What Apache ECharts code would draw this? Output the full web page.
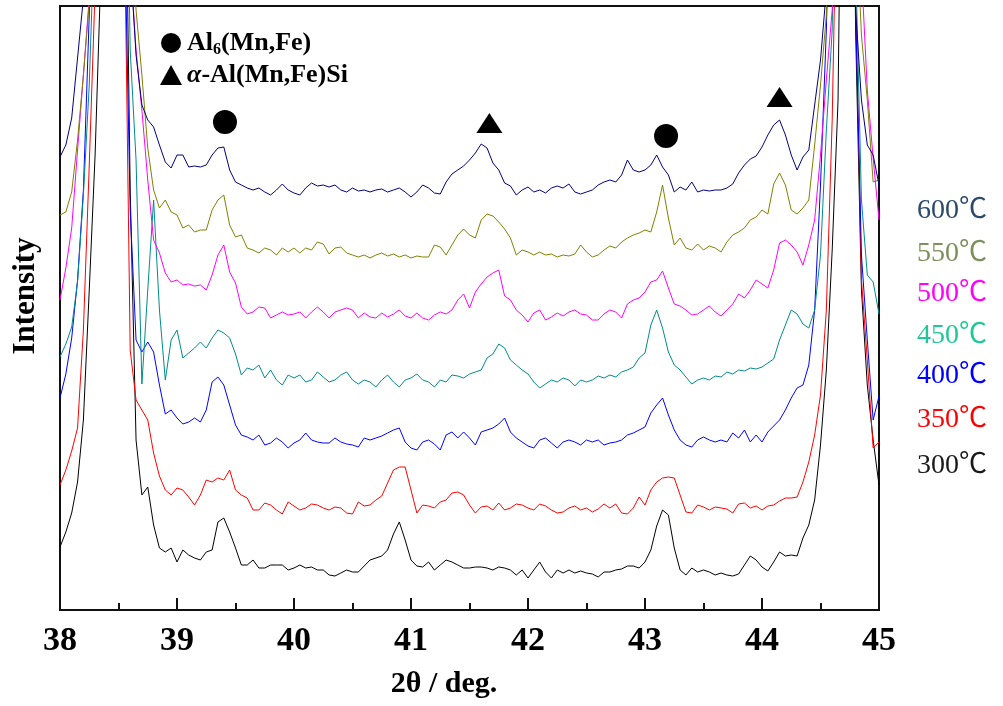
<!DOCTYPE html>
<html lang="en">
<head>
<meta charset="UTF-8">
<title>XRD</title>
<script src="https://cdn.jsdelivr.net/npm/echarts@6.0.0/dist/echarts.min.js"></script>
<style>html,body{margin:0;padding:0;background:#fff;}</style>
</head>
<body>
<div id="box" style="width:1003px;height:706px;"></div>
<script>
// 2theta scan positions (deg), step 0.05
var twoTheta = [
  38.00,38.05,38.10,38.15,38.20,38.25,38.30,38.35,38.40,38.45,38.50,38.55,38.60,38.65,38.70,38.75,38.80,38.85,38.90,38.95,
  39.00,39.05,39.10,39.15,39.20,39.25,39.30,39.35,39.40,39.45,39.50,39.55,39.60,39.65,39.70,39.75,39.80,39.85,39.90,39.95,
  40.00,40.05,40.10,40.15,40.20,40.25,40.30,40.35,40.40,40.45,40.50,40.55,40.60,40.65,40.70,40.75,40.80,40.85,40.90,40.95,
  41.00,41.05,41.10,41.15,41.20,41.25,41.30,41.35,41.40,41.45,41.50,41.55,41.60,41.65,41.70,41.75,41.80,41.85,41.90,41.95,
  42.00,42.05,42.10,42.15,42.20,42.25,42.30,42.35,42.40,42.45,42.50,42.55,42.60,42.65,42.70,42.75,42.80,42.85,42.90,42.95,
  43.00,43.05,43.10,43.15,43.20,43.25,43.30,43.35,43.40,43.45,43.50,43.55,43.60,43.65,43.70,43.75,43.80,43.85,43.90,43.95,
  44.00,44.05,44.10,44.15,44.20,44.25,44.30,44.35,44.40,44.45,44.50,44.55,44.60,44.65,44.70,44.75,44.80,44.85,44.90,44.95,
  45.00
];

// intensities (arb. units, curves already stacked)
var i600 = [
  453,465,492,552,612,800,1100,1400,1500,1500,1300,900,650,555,505,490,483,465,448,442,
  455,455,443,444,443,445,455,462,463,440,428,425,422,420,422,418,415,420,426,420,
  417,415,422,427,424,425,423,425,420,418,422,419,420,418,420,421,418,420,422,418,
  413,418,425,422,417,416,428,436,440,444,450,457,466,462,447,440,427,424,415,420,
  423,418,420,417,422,424,422,426,418,416,418,420,425,428,430,428,435,450,440,438,
  440,445,455,443,435,418,423,420,428,418,420,419,420,420,422,426,437,445,451,454,
  463,475,485,490,475,455,440,453,460,505,550,620,800,1100,1300,1200,600,510,465,455,
  425
];
var i550 = [
  395,398,418,470,535,607,800,1100,1400,1500,1400,900,700,600,535,462,420,402,410,398,
  395,382,385,378,380,380,400,410,415,385,373,375,362,360,357,362,360,355,362,358,
  362,357,362,360,368,366,356,362,363,357,355,353,355,352,355,357,354,356,353,355,
  352,354,353,353,365,363,355,365,375,381,375,372,390,396,394,388,381,372,355,360,
  358,355,358,355,356,353,355,354,356,365,358,353,355,360,364,362,368,372,375,377,
  380,378,398,425,392,365,372,362,360,366,360,364,362,358,368,375,378,382,390,393,
  400,396,426,437,425,400,396,402,410,465,525,595,800,1100,1300,1200,700,575,510,428,
  430
];
var i500 = [
  310,342,382,460,535,612,800,1100,1400,1500,1400,1000,650,560,500,430,370,357,337,328,
  330,325,326,324,325,320,335,355,365,338,327,303,296,298,303,302,292,295,298,295,
  296,298,292,298,303,298,292,298,300,302,300,292,297,293,292,297,293,296,300,294,
  292,297,292,290,295,298,296,300,310,316,302,318,326,333,337,340,314,310,300,295,
  288,297,300,290,293,297,294,298,300,296,295,290,290,296,300,298,292,306,310,312,
  318,328,330,339,322,306,304,300,295,296,300,304,298,294,300,306,316,312,320,330,
  326,322,340,367,370,365,358,345,365,390,455,530,600,800,1100,1300,900,640,520,452,
  390
];
var i450 = [
  253,266,283,328,415,525,700,1000,1300,1500,1300,900,560,450,226,320,410,300,230,270,
  280,252,257,262,268,262,272,280,277,272,256,235,242,240,245,232,240,230,225,235,
  232,235,228,230,238,233,228,230,235,238,230,226,230,228,223,230,235,228,223,230,
  232,236,230,228,223,230,228,235,234,232,236,238,240,252,256,266,262,250,245,240,
  236,228,222,226,230,228,232,230,224,230,228,230,234,232,235,233,238,240,243,252,
  257,285,300,282,258,245,240,233,226,230,232,230,234,233,238,236,240,239,242,241,
  243,247,251,270,285,300,296,286,282,300,355,480,580,900,1300,1200,650,410,335,328,
  296
];
var i400 = [
  212,236,272,330,420,595,800,1100,1400,1500,1300,700,400,270,258,268,258,225,196,200,
  192,186,188,192,188,200,228,233,225,205,185,175,173,170,175,165,167,172,168,162,
  167,170,177,170,168,167,167,172,168,166,165,163,172,170,172,174,177,180,182,168,
  162,160,168,170,166,160,175,178,172,178,172,165,178,180,182,186,192,178,172,168,
  164,162,170,172,167,162,168,170,168,165,170,168,170,165,167,168,170,175,177,180,
  183,197,205,212,195,180,170,165,163,170,173,170,168,170,168,177,172,180,168,175,
  168,178,184,190,200,212,222,225,245,300,425,580,800,1100,1300,1200,600,355,270,190,
  214
];
var i350 = [
  125,140,159,182,280,445,620,900,1300,1500,1250,700,260,210,200,190,157,134,120,115,
  122,120,113,105,115,130,128,132,130,140,120,115,112,100,100,107,105,100,96,108,
  104,100,102,106,105,102,100,103,102,97,96,108,104,105,110,114,127,140,143,143,
  120,97,105,104,102,108,110,117,118,115,105,97,103,104,100,107,100,102,106,105,
  102,100,106,104,100,97,98,102,104,100,102,98,101,106,102,106,97,96,102,113,
  105,120,128,132,133,132,115,98,97,105,103,100,103,102,101,97,106,107,102,104,
  100,104,105,109,112,112,113,128,148,175,215,300,490,800,1200,1100,620,330,250,162,
  168
];
var i300 = [
  63,78,97,128,190,320,455,640,1100,1500,1300,850,420,170,115,123,85,62,58,62,
  48,60,55,52,50,58,60,88,92,78,62,45,45,50,42,42,45,45,45,40,
  42,45,42,43,40,40,35,34,37,40,38,38,44,50,52,54,60,76,88,70,
  50,44,43,48,40,45,50,48,45,42,42,43,43,42,40,43,42,40,35,40,
  32,40,48,38,32,40,37,40,37,39,37,36,33,38,38,40,41,44,44,42,
  48,60,84,100,95,62,40,35,42,38,40,38,35,37,35,34,36,45,54,50,
  43,39,48,58,54,55,54,72,85,110,165,240,360,510,1000,1100,580,320,225,170,
  125
];

var temps = ['600℃', '550℃', '500℃', '450℃', '400℃', '350℃', '300℃'];
var curves = [i600, i550, i500, i450, i400, i350, i300];

// phase markers (2theta, height)
var al6Peaks = [[39.41, 488], [43.18, 474]];
var alphaPeaks = [[41.67, 487], [44.15, 513]];

var lineColors = ['#000080', '#808000', '#ff00ff', '#008b8b', '#0000ff', '#ff0000', '#000000'];
var labelColors = ['#2e4a6b', '#7d8f5a', '#ff00ff', '#20c898', '#0000ff', '#ff0000', '#1a1a1a'];
var labelY = [211, 254, 294, 336, 376, 420, 466];

var serif = '"Liberation Serif", "Times New Roman", serif';

var chart = echarts.init(document.getElementById('box'));

var series = [];
for (var k = curves.length - 1; k >= 0; k--) {
  series.push({
    name: temps[k],
    type: 'line',
    data: twoTheta.map(function (x, i) { return [x, curves[k][i]]; }),
    showSymbol: false,
    lineStyle: { width: 1, color: lineColors[k] },
    itemStyle: { color: lineColors[k] },
    animation: false,
    z: 2
  });
}
series.push({
  name: 'Al6(Mn,Fe)',
  type: 'scatter',
  symbol: 'circle',
  symbolSize: 24,
  data: al6Peaks,
  itemStyle: { color: '#000', opacity: 1 },
  z: 5
});
series.push({
  name: 'α-Al(Mn,Fe)Si',
  type: 'scatter',
  symbol: 'triangle',
  symbolSize: [26, 20],
  data: alphaPeaks,
  itemStyle: { color: '#000', opacity: 1 },
  z: 5
});

var option = {
  animation: false,
  backgroundColor: '#fff',
  grid: {
    left: 60, right: 124, top: 6, bottom: 96,
    show: true, borderColor: '#111', borderWidth: 2
  },
  legend: {
    data: [
      { name: 'Al6(Mn,Fe)', icon: 'circle', itemStyle: { color: '#000', opacity: 1 } },
      { name: 'α-Al(Mn,Fe)Si', icon: 'triangle', itemStyle: { color: '#000', opacity: 1 } }
    ],
    orient: 'vertical',
    left: 155, top: 23,
    itemWidth: 22, itemHeight: 20, itemGap: 2,
    selectedMode: false,
    formatter: function (name) {
      if (name === 'Al6(Mn,Fe)') return 'Al{sub|6}(Mn,Fe)';
      return '{it|α}-Al(Mn,Fe)Si';
    },
    textStyle: {
      fontFamily: serif, fontWeight: 'bold', fontSize: 26, color: '#000', lineHeight: 30,
      rich: {
        sub: { fontFamily: serif, fontWeight: 'bold', fontSize: 16, color: '#000', verticalAlign: 'bottom', lineHeight: 18 },
        it: { fontFamily: serif, fontWeight: 'bold', fontStyle: 'italic', fontSize: 26, color: '#000', lineHeight: 30 }
      }
    }
  },
  xAxis: {
    type: 'value',
    min: 38, max: 45, interval: 1,
    axisLine: { lineStyle: { color: '#111', width: 2 } },
    axisTick: { inside: true, length: 12, lineStyle: { color: '#111', width: 2 } },
    minorTick: { show: true, splitNumber: 2, length: 7, lineStyle: { color: '#111', width: 2 } },
    axisLabel: { fontFamily: serif, fontWeight: 'bold', fontSize: 34, color: '#000', margin: 14 },
    splitLine: { show: false }
  },
  yAxis: {
    type: 'value',
    min: 0, max: 604,
    axisLine: { show: true, lineStyle: { color: '#111', width: 2 } },
    axisTick: { show: false },
    axisLabel: { show: false },
    splitLine: { show: false }
  },
  graphic: temps.map(function (t, i) {
    return {
      type: 'text',
      x: 917, y: labelY[i],
      style: {
        text: t, fill: labelColors[i],
        fontFamily: serif + ', "Noto Sans CJK SC"', fontSize: 28,
        verticalAlign: 'middle'
      }
    };
  }).concat([
    {
      type: 'text', x: 444, y: 684,
      style: {
        text: '2θ / deg.', fill: '#000', fontFamily: serif, fontWeight: 'bold', fontSize: 30,
        align: 'center', verticalAlign: 'middle'
      }
    },
    {
      type: 'text', x: 26, y: 296, rotation: Math.PI / 2,
      style: {
        text: 'Intensity', fill: '#000', fontFamily: serif, fontWeight: 'bold', fontSize: 31,
        align: 'center', verticalAlign: 'middle'
      }
    }
  ]),
  series: series
};

chart.setOption(option);
</script>
</body>
</html>
